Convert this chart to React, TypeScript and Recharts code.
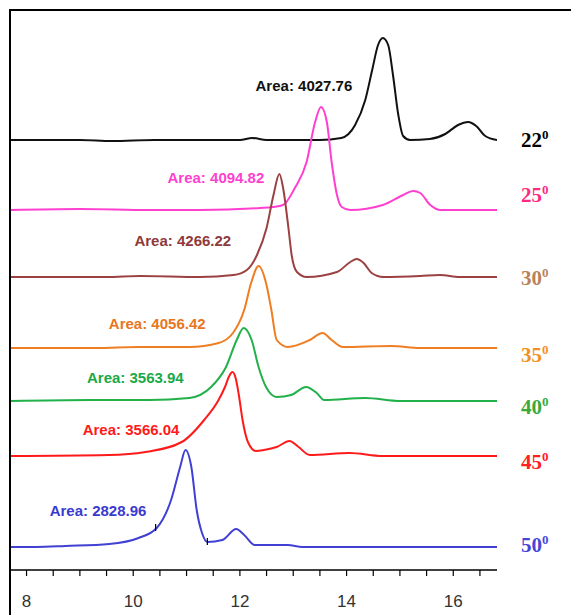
import { LineChart, Line, XAxis, YAxis, ReferenceDot } from "recharts";

// x: elution position, v: stacked signal (offset per temperature)
const s22 = [
  [7.69, 430], [9.0, 430], [9.6, 429], [10.4, 430], [11.3, 430], [12.0, 430],
  [12.23, 432], [12.5, 430], [13.5, 430], [13.9, 432], [14.16, 445], [14.35, 470],
  [14.48, 500], [14.59, 525], [14.68, 532], [14.78, 525], [14.87, 495], [14.97, 455],
  [15.06, 434], [15.19, 430], [15.56, 431], [15.85, 436], [16.09, 445], [16.28, 448],
  [16.43, 444], [16.6, 434], [16.82, 430],
];
const s25 = [
  [7.69, 360], [9.0, 361], [10.31, 360], [11.25, 360], [12.38, 362], [12.62, 363],
  [12.81, 365], [13.03, 382], [13.25, 408], [13.41, 448], [13.52, 463], [13.63, 448],
  [13.72, 408], [13.82, 375], [13.91, 363], [14.07, 360], [14.68, 365], [15.06, 375],
  [15.25, 379], [15.38, 377], [15.57, 365], [15.76, 360], [16.82, 360],
];
const s30 = [
  [7.69, 293], [9.5, 293], [10.13, 294], [11.25, 293], [11.88, 295], [12.13, 300],
  [12.32, 315], [12.5, 342], [12.63, 375], [12.74, 396], [12.81, 382], [12.91, 342],
  [12.97, 315], [13.07, 298], [13.25, 293], [13.82, 298], [14.07, 308], [14.19, 311],
  [14.32, 307], [14.47, 297], [14.69, 293], [15.38, 294], [15.75, 295], [16.12, 293],
  [16.82, 293],
];
const s35 = [
  [7.69, 222], [9.3, 222], [10.1, 223], [11.05, 223], [11.6, 227], [11.87, 237],
  [12.08, 260], [12.21, 287], [12.35, 304], [12.49, 287], [12.59, 260], [12.69, 230],
  [12.9, 223], [13.31, 230], [13.55, 237], [13.72, 230], [13.92, 223], [14.84, 224],
  [15.38, 222], [16.82, 222],
];
const s40 = [
  [7.69, 169], [9.2, 170], [10.31, 170], [11.05, 172], [11.46, 183], [11.74, 203],
  [11.94, 230], [12.07, 242], [12.22, 230], [12.35, 203], [12.49, 183], [12.69, 173],
  [12.96, 175], [13.24, 183], [13.44, 177], [13.58, 170], [14.35, 172], [15.01, 169],
  [16.82, 169],
];
const s45 = [
  [7.69, 114], [9.54, 115], [10.23, 118], [10.91, 128], [11.33, 150], [11.6, 170],
  [11.72, 183], [11.8, 194], [11.86, 198], [11.92, 192], [11.98, 175], [12.05, 150],
  [12.15, 128], [12.3, 119], [12.45, 120], [12.69, 123], [12.93, 129], [13.1, 123],
  [13.31, 115], [14.06, 117], [14.67, 114], [16.82, 114],
];
const s50 = [
  [7.69, 23], [8.18, 23], [8.73, 24], [9.55, 26], [10.1, 32], [10.44, 42], [10.71, 70],
  [10.88, 103], [10.98, 120], [11.09, 103], [11.19, 60], [11.29, 37], [11.39, 28],
  [11.67, 30], [11.93, 41], [12.08, 35], [12.28, 25], [12.9, 25], [13.17, 23],
  [16.82, 23],
];

const temps = ["22", "25", "30", "35", "40", "45", "50"];
const areas = ["4027.76", "4094.82", "4266.22", "4056.42", "3563.94", "3566.04", "2828.96"];
const lineColors = ["#111111", "#ff3fd0", "#9b4141", "#ef7d22", "#22b04a", "#ff1a1a", "#4040d4"];
const areaColors = ["#111111", "#ff3fd0", "#8e3a3a", "#e8761e", "#1aa848", "#ff1a1a", "#3a3ad0"];
const tempColors = ["#000000", "#ff2a7f", "#b8835a", "#f39020", "#3aaa3a", "#ff2020", "#4646d6"];
const seriesData = [s22, s25, s30, s35, s40, s45, s50];

// where the "Area:" annotations sit (data coords)
const areaLabelPos = [
  [13.2, 485], [11.55, 393], [10.93, 330], [10.45, 247], [10.04, 193], [9.96, 141], [9.34, 60],
];
const tempLabelY = [430, 375, 292, 215, 163, 108, 25];

const xTicks = [8, 8.5, 9, 9.5, 10, 10.5, 11, 11.5, 12, 12.5, 13, 13.5, 14, 14.5, 15, 15.5, 16, 16.5];
const intMarks = [[10.42, 42], [11.39, 28]];

const series = seriesData.map((pts) => pts.map(([x, v]) => ({ x, v })));

export default function App() {
  return (
    <div style={{ position: "absolute", left: 0, top: 0, width: 571, height: 615, background: "#fff" }}>
      <LineChart width={571} height={615} margin={{ top: 10, right: 74, bottom: 0, left: 10 }}>
        <XAxis
          dataKey="x"
          type="number"
          domain={[7.69, 16.82]}
          ticks={xTicks}
          interval={0}
          allowDataOverflow
          height={45}
          tickFormatter={(t: number) => (t % 2 === 0 ? String(t) : "")}
          axisLine={{ stroke: "#000", strokeWidth: 1.5 }}
          tickLine={{ stroke: "#000", strokeWidth: 1.2 }}
          tickSize={6}
          tickMargin={19}
          tick={{ fontSize: 17, fill: "#333", fontFamily: "Liberation Sans, Arial, sans-serif" }}
        />
        <YAxis hide type="number" domain={[0, 560]} allowDataOverflow />
        {series.map((d, i) => (
          <Line
            key={temps[i]}
            data={d}
            dataKey="v"
            type="monotone"
            stroke={lineColors[i]}
            strokeWidth={2}
            dot={false}
            activeDot={false}
            isAnimationActive={false}
          />
        ))}
        {intMarks.map(([x, y], i) => (
          <ReferenceDot
            key={"m" + i}
            x={x}
            y={y}
            r={1}
            shape={(p: any) => (
              <line x1={p.cx} y1={p.cy - 4} x2={p.cx} y2={p.cy + 3} stroke="#000" strokeWidth={1.2} />
            )}
          />
        ))}
        {areas.map((a, i) => (
          <ReferenceDot
            key={"a" + i}
            x={areaLabelPos[i][0]}
            y={areaLabelPos[i][1]}
            r={1}
            fill="none"
            stroke="none"
            label={(p: any) => (
              <text
                x={p.viewBox.x + 1}
                y={p.viewBox.y + 1}
                textAnchor="middle"
                dominantBaseline="central"
                fontFamily="Liberation Sans, Arial, sans-serif"
                fontWeight="bold"
                fontSize={15}
                fill={areaColors[i]}
              >
                {"Area: " + a}
              </text>
            )}
          />
        ))}
        {temps.map((t, i) => (
          <ReferenceDot
            key={"t" + i}
            x={16.82}
            y={tempLabelY[i]}
            r={1}
            fill="none"
            stroke="none"
            label={(p: any) => (
              <text
                x={p.viewBox.x + 25}
                y={p.viewBox.y + 8}
                textAnchor="start"
                fontFamily="Liberation Serif, Times New Roman, serif"
                fontWeight="bold"
                fontSize={21}
                fill={tempColors[i]}
              >
                {t}
                <tspan dy={-8} fontSize={13}>0</tspan>
              </text>
            )}
          />
        ))}
      </LineChart>
      <div
        style={{
          position: "absolute",
          left: 9,
          top: 9,
          width: 562,
          height: 606,
          borderLeft: "2px solid #000",
          borderTop: "2px solid #000",
          boxSizing: "border-box",
          pointerEvents: "none",
        }}
      />
    </div>
  );
}
